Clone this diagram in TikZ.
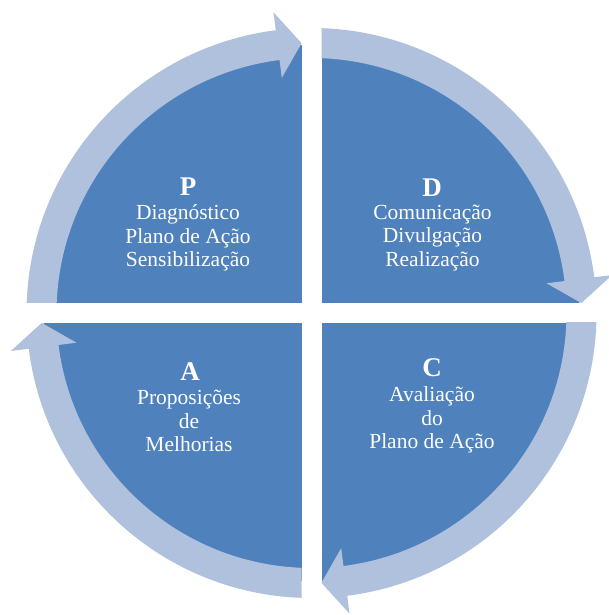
\documentclass[tikz,border=0pt]{standalone}
\usepackage{fontspec}
\setmainfont{Liberation Serif}
\usetikzlibrary{calc}
\definecolor{slice}{HTML}{4F81BD}
\definecolor{ring}{HTML}{B0C1DE}
% ring arrow: #1 start angle, #2 angle of the head base, #3 angle of the tip
\newcommand\ringarrow[3]{%
  \fill[ringarrow] ($(C)+(#1:285)$) arc[start angle=#1,end angle=#2,radius=285]
    -- ($(C)+(#2:303)$) -- ($(C)+(#3:270)$) -- ($(C)+(#2:237)$) -- ($(C)+(#2:255)$)
    arc[start angle=#2,end angle=#1,radius=255] -- cycle;}
\begin{document}
\begin{tikzpicture}[x=1pt,y=1pt,
  quarter/.style={fill=slice},
  ringarrow/.style={fill=ring},
  letter/.style={text=white,inner sep=0pt,font=\fontsize{27}{27}\selectfont\bfseries},
  body/.style={text=white,inner sep=0pt,align=center,font=\fontsize{21.5}{23.5}\selectfont}]
\useasboundingbox (0,0) rectangle (609,615);
\coordinate (C) at (311.5,302);

% four quarters of the disc, separated by a white cross
\fill[quarter] (C) circle[radius=268];
\fill[white] ($(C)+(-10,-300)$) rectangle ($(C)+(10,300)$);
\fill[white] ($(C)+(-300,-10)$) rectangle ($(C)+(300,10)$);

% clockwise ring arrows, one per quarter
\begin{scope}
  \clip ($(C)+(-320,10)$) rectangle ($(C)+(320,320)$);
  \ringarrow{180}{97.2}{92.1}
\end{scope}
\begin{scope}
  \clip ($(C)+(10,-320)$) rectangle ($(C)+(320,320)$);
  \ringarrow{90}{7.2}{2.1}
\end{scope}
\begin{scope}
  \clip ($(C)+(-320,-10)$) rectangle ($(C)+(320,-320)$);
  \ringarrow{0}{-82.8}{-87.9}
\end{scope}
\begin{scope}
  \clip ($(C)+(-10,-320)$) rectangle ($(C)+(-320,320)$);
  \ringarrow{270}{187.2}{182.1}
\end{scope}

% labels
\node[letter] (pL) at (188,428) {P};
\node[body] (pT) at (188,377) {Diagnóstico\\Plano de Ação\\Sensibilização};
\node[letter] (dL) at (432,427) {D};
\node[body] (dT) at (432.5,377) {Comunicação\\Divulgação\\Realização};
\node[letter] (aL) at (190,243) {A};
\node[body] (aT) at (189,194) {Proposições\\de\\Melhorias};
\node[letter] (cL) at (432,247) {C};
\node[body] (cT) at (432,195) {Avaliação\\do\\Plano de Ação};
\end{tikzpicture}
\end{document}
